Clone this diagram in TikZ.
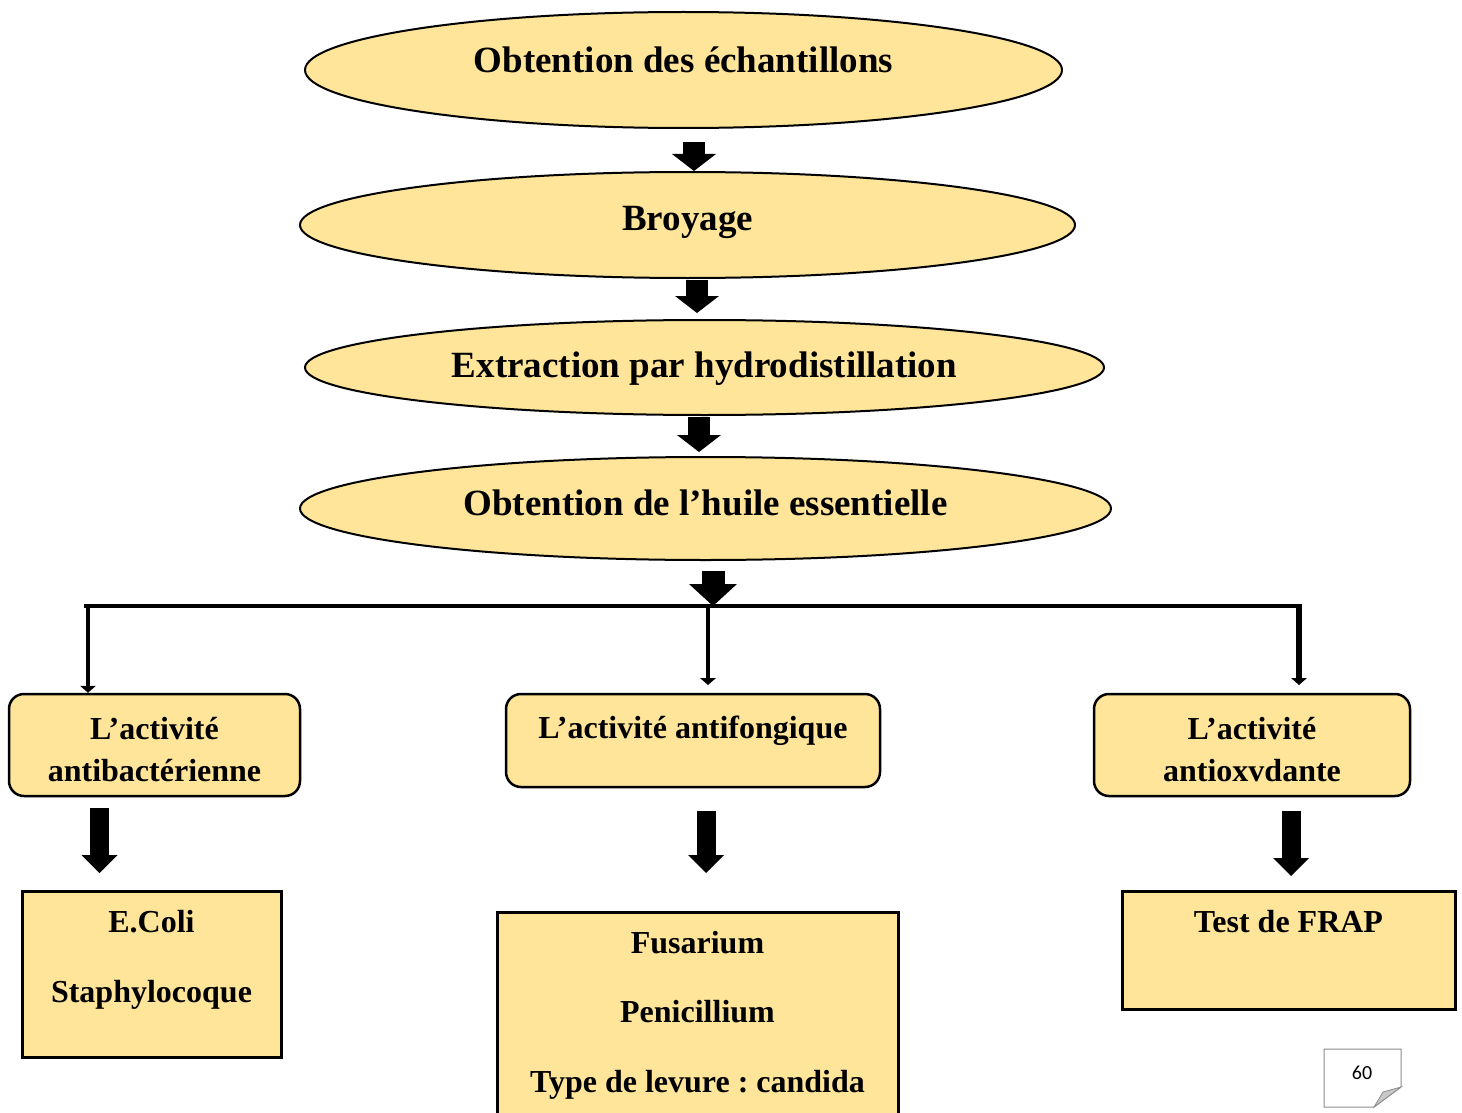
\documentclass[tikz,border=0pt]{standalone}
\usepackage{fontspec}
\setmainfont{Liberation Serif}
\newfontfamily\pgfont{Carlito}
\usetikzlibrary{shapes.geometric,arrows.meta}
\definecolor{gold}{HTML}{FFE599}
\definecolor{foldgray}{HTML}{C8C8C8}
\definecolor{edgegray}{HTML}{8C8C8C}
\begin{document}
\frenchspacing
\begin{tikzpicture}[x=1pt,y=-1pt,
  oval/.style={ellipse,draw=black,line width=2pt,fill=gold,inner sep=0pt},
  biglbl/.style={font=\bfseries\fontsize{37}{44}\selectfont,text height=25pt,text depth=0pt,inner sep=0pt},
  smalllbl/.style={font=\bfseries\fontsize{32}{42}\selectfont,align=center,text height=21.5pt,text depth=0pt,inner sep=0pt},
  rbox/.style={rectangle,rounded corners=15pt,draw=black,line width=2.5pt,fill=gold,inner sep=0pt},
  sbox/.style={rectangle,draw=black,line width=3pt,fill=gold,inner sep=0pt},
  bigarrow/.style={line width=22pt,-{Triangle[width=44pt,length=17pt,line width=0pt]}},
  lowarrow/.style={line width=19pt,-{Triangle[width=36pt,length=18pt,line width=0pt]}},
  thinarrow/.style={line width=4.5pt,-{Triangle[width=16pt,length=7pt,line width=0pt]}},
  busline/.style={line width=4pt}]
\clip (0,0) rectangle (1462,1113);
\fill[white] (0,0) rectangle (1462,1113);

% ellipses
\node[oval,minimum width=757pt,minimum height=116pt,
  label={[biglbl,yshift=10pt]center:Obtention des échantillons}] (e1) at (683.5,70) {};
\node[oval,minimum width=775pt,minimum height=106pt,
  label={[biglbl,yshift=7pt]center:Broyage}] (e2) at (687.5,225) {};
\node[oval,minimum width=799pt,minimum height=95pt,
  label={[biglbl,yshift=2.5pt]center:Extraction par hydrodistillation}] (e3) at (704.5,367.5) {};
\node[oval,minimum width=811pt,minimum height=103pt,
  label={[biglbl,yshift=5.5pt]center:Obtention de l’huile essentielle}] (e4) at (705.5,508.5) {};

% activity boxes
\node[rbox,minimum width=291pt,minimum height=102pt,
  label={[smalllbl,yshift=-26pt]center:L’activité\\antibactérienne}] (ba) at (154.5,745) {};
\node[rbox,minimum width=374pt,minimum height=93pt,
  label={[smalllbl,yshift=12.5pt]center:L’activité antifongique}] (bb) at (693,740.5) {};
\node[rbox,minimum width=316pt,minimum height=102pt,
  label={[smalllbl,yshift=-26pt]center:L’activité\\antioxvdante}] (bc) at (1252,745) {};

% result boxes
\node[sbox,minimum width=259pt,minimum height=166pt,
  label={[smalllbl,yshift=-18pt]center:E.Coli\\[28pt]Staphylocoque}] (ra) at (151.5,974) {};
\node[sbox,minimum width=401pt,minimum height=220pt,
  label={[smalllbl,yshift=-60pt]center:Fusarium\\[27pt]Penicillium\\[28pt]Type de levure : candida}] (rb) at (697.5,1022) {};
\node[sbox,minimum width=333pt,minimum height=118pt,
  label={[smalllbl,yshift=28pt]center:Test de FRAP}] (rc) at (1288.5,950) {};

% block arrows between ellipses
\coordinate (a1) at (694,142);
\draw[bigarrow] (a1) -- (a1 |- e2.north);
\coordinate (a2s) at (697,280); \coordinate (a2e) at (697,313);
\draw[bigarrow] (a2s) -- (a2e);
\coordinate (a3s) at (699,417); \coordinate (a3e) at (699,452);
\draw[bigarrow] (a3s) -- (a3e);

% bus
\coordinate (busl) at (84,606);
\coordinate (busr) at (1302,606);
\draw[busline] (busl) -- (busr);
\coordinate (a4s) at (713,571);
\draw[line width=23pt,-{Triangle[width=48pt,length=22pt,line width=0pt]}] (a4s) -- (a4s |- busl);

\coordinate (bl0) at (88,604);
\draw[thinarrow] (bl0) -- (bl0 |- ba.north);
\coordinate (bm) at (708,604); \coordinate (bme) at (708,685);
\draw[thinarrow] (bm) -- (bme);
\coordinate (brt) at (1299,604); \coordinate (bre) at (1299,685);
\draw[thinarrow,line width=6pt] (brt) -- (bre);

% lower block arrows
\coordinate (l1s) at (99.5,808); \coordinate (l1e) at (99.5,873);
\draw[lowarrow] (l1s) -- (l1e);
\coordinate (l2s) at (706,811); \coordinate (l2e) at (706,873);
\draw[lowarrow] (l2s) -- (l2e);
\coordinate (l3s) at (1291,811); \coordinate (l3e) at (1291,876);
\draw[lowarrow] (l3s) -- (l3e);

% page number
\draw[edgegray,line width=1pt,fill=white] (1324,1049) -- (1401,1049) -- (1401,1087) -- (1374,1107) -- (1324,1107) -- cycle;
\draw[edgegray,line width=0.8pt,fill=foldgray] (1401,1087) -- (1383,1092) -- (1374,1107) -- cycle;
\node[font=\pgfont\fontsize{20}{24}\selectfont,inner sep=0pt] (pg) at (1362,1073) {60};
\end{tikzpicture}
\end{document}
